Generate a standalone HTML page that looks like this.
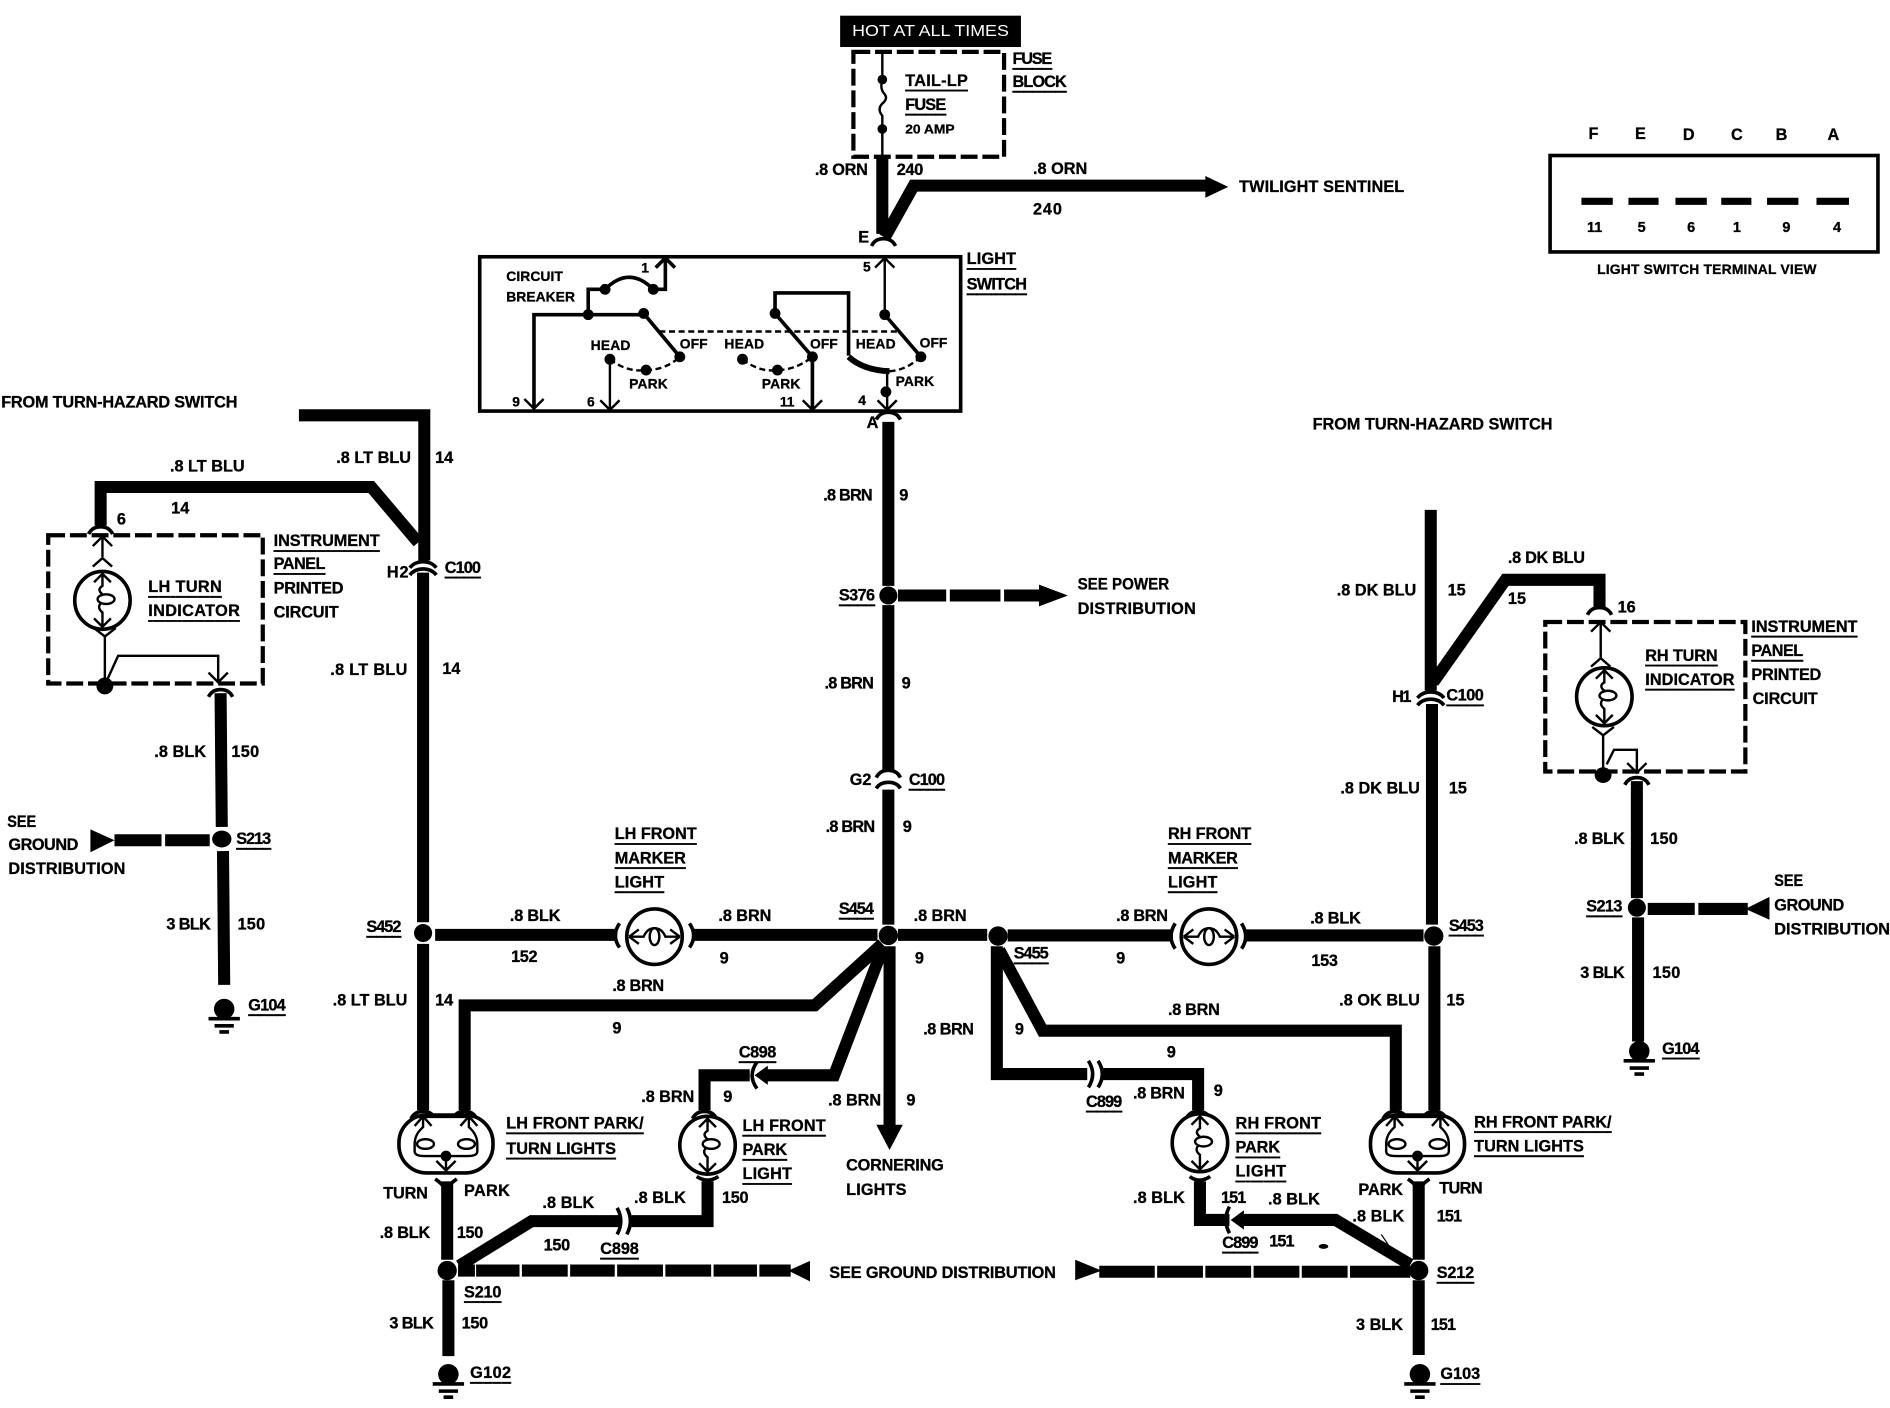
<!DOCTYPE html>
<html><head><meta charset="utf-8"><style>
html,body{margin:0;padding:0;background:#fff}
svg{display:block}
text{font-family:"Liberation Sans",sans-serif;font-weight:700;font-size:13.5px;fill:#000;stroke:#000;stroke-width:.25;dominant-baseline:central}
.u{text-decoration:underline;text-underline-offset:3px}
.w{fill:none;stroke:#000;stroke-width:10;stroke-linejoin:miter}
.t{fill:none;stroke:#000;stroke-width:2}
.m{fill:none;stroke:#000;stroke-width:3}
.d{fill:none;stroke:#000;stroke-width:3.5;stroke-dasharray:14 4}
.n{fill:none;stroke:#000;stroke-width:2;stroke-dasharray:5 3}
</style></head><body>
<svg xmlns="http://www.w3.org/2000/svg" width="1890" height="1408" viewBox="0 0 1568 1168" preserveAspectRatio="none">
<defs>
<path id="ad" class="t" d="M-8 -8L0 0L8 -8"/>
<path id="cu" class="m" d="M-10 4Q-7 -2 0 -2Q7 -2 10 4"/>
<g id="cc"><path class="m" d="M-11 -1Q-7 -6 0 -6Q7 -6 11 -1"/><path class="m" d="M-11 5Q-7 0 0 0Q7 0 11 5"/></g>
<g id="gr"><circle cx="0" cy="0" r="8.500" fill="#000"/><path d="M-13 8H13M-8 14H8M-4 19H4" stroke="#000" stroke-width="3"/></g>
<g id="bulbv"><ellipse rx="23" ry="24" fill="#fff" stroke="#000" stroke-width="3"/>
<path class="t" d="M-7 -15L0 -22L7 -15M0 -22V-12Q-5 -9 0 -5Q3 -2 -1 2Q-5 6 0 10V22M-7 15L0 22L7 15"/><ellipse cx="3" cy="-1" rx="7" ry="4" fill="#fff" stroke="#000" stroke-width="2"/></g>
<g id="bulbh"><ellipse rx="23" ry="23" fill="#fff" stroke="#000" stroke-width="3"/>
<path class="t" d="M-21 0L-13 -6M-21 0L-13 6M21 0L13 -6M21 0L13 6M-21 0H-9Q-6 -7 0 -7Q6 -7 9 0H21"/><ellipse rx="4" ry="7" fill="#fff" stroke="#000" stroke-width="2"/></g>
<g id="dbl"><rect x="-39" y="-24" width="78" height="48" rx="23" fill="#fff" stroke="#000" stroke-width="3"/>
<path d="M-24 -23H24" stroke="#000" stroke-width="3"/>
<path class="t" d="M-26 -15L-19 -23L-12 -15M12 -15L19 -23L26 -15M-19 -23V-14Q-26 -8 -26 0V6Q-26 10 -18 10H18Q26 10 26 6V0Q26 -8 19 -14V-23M-8 14L0 22L8 14M0 22V10"/>
<ellipse cx="-17" cy="0" rx="7" ry="4" fill="#fff" stroke="#000" stroke-width="2"/><ellipse cx="17" cy="0" rx="7" ry="4" fill="#fff" stroke="#000" stroke-width="2"/><circle cx="0" cy="10" r="4.5" fill="#000"/></g>
</defs>

<!-- top -->
<rect x="697" y="13" width="150" height="26" fill="#000"/>
<text x="707" y="26" textLength="130" lengthAdjust="spacingAndGlyphs" style="fill:#fff;stroke:none;font-weight:400;font-size:13px">HOT AT ALL TIMES</text>
<rect x="708" y="43" width="125" height="87" class="d"/>
<path class="t" d="M732 43V66M732 106V130"/>
<circle cx="732" cy="66" r="4"/><circle cx="732" cy="107" r="4"/>
<path class="t" d="M732 66Q730 73 733 77Q737 81 733 85Q727 90 732 96V106"/>
<text class="u" x="751" y="67" textLength="52">TAIL-LP</text>
<text class="u" x="751" y="87" textLength="34">FUSE</text>
<text x="751" y="107" style="font-size:11px" textLength="41" lengthAdjust="spacingAndGlyphs">20 AMP</text>
<text class="u" x="840" y="49" textLength="33">FUSE</text>
<text class="u" x="840" y="68" textLength="45">BLOCK</text>
<path class="w" d="M732 130V194"/>
<path class="w" d="M734 197L758 154H1005"/>
<path d="M1000 146L1019 155L1000 164Z"/>
<text x="1028" y="155" textLength="137">TWILIGHT SENTINEL</text>
<text x="676" y="141" textLength="44">.8 ORN</text>
<text x="744" y="141" textLength="22">240</text>
<text x="857" y="140" textLength="45">.8 ORN</text>
<text x="857" y="174" textLength="24">240</text>
<text x="712" y="197">E</text>
<use href="#cu" x="733" y="200"/>
<text class="u" x="802" y="215" textLength="41">LIGHT</text>
<text class="u" x="802" y="236" textLength="50">SWITCH</text>

<!-- light switch -->
<rect x="398" y="213" width="399" height="128" fill="none" stroke="#000" stroke-width="3"/>
<text x="420" y="229" style="font-size:11.5px" textLength="47">CIRCUIT</text>
<text x="420" y="246" style="font-size:11.5px" textLength="57">BREAKER</text>
<path class="m" d="M443 339V261H534M488 261V240H502Q522 220 542 240H552V214"/>
<path class="m" d="M544 222L552 214L560 222"/>
<circle cx="488" cy="261" r="4.500"/><circle cx="502" cy="240" r="4.500"/><circle cx="542" cy="240" r="4.500"/><circle cx="534" cy="260" r="4.500"/>
<path class="m" d="M534 260L564 296"/>
<circle cx="564" cy="296" r="4.500"/><circle cx="506" cy="298" r="4.500"/><circle cx="536" cy="307" r="4.500"/>
<path class="n" d="M506 298Q520 309 536 307Q552 307 564 296"/>
<path class="t" d="M506 298V339"/>
<path class="m" d="M643 260V243H704V295"/>
<path class="m" d="M643 260L674 296"/>
<circle cx="643" cy="260" r="4.500"/><circle cx="674" cy="296" r="4.500"/><circle cx="616" cy="298" r="4.500"/><circle cx="645" cy="307" r="4.500"/>
<path class="n" d="M616 298Q630 309 645 307Q660 307 674 296"/>
<path class="m" d="M674 296V339"/>
<path d="M704 296Q716 307 738 308" fill="none" stroke="#000" stroke-width="5"/>
<path class="t" d="M734 214V261"/>
<path class="t" d="M726 222L734 214L742 222"/>
<path class="m" d="M734 261L764 296"/>
<circle cx="734" cy="261" r="4.500"/><circle cx="764" cy="296" r="4.500"/><circle cx="735" cy="325" r="4.500"/>
<path class="n" d="M738 308Q752 307 764 296"/>
<path class="t" d="M736 308V339"/>
<path class="n" d="M547 275H747" stroke-dasharray="10 3"/>
<use href="#ad" x="443" y="339"/><use href="#ad" x="506" y="340"/><use href="#ad" x="674" y="340"/><use href="#ad" x="736" y="340"/>
<text x="532" y="222" style="font-size:11.5px">1</text>
<text x="716" y="221" style="font-size:11.5px">5</text>
<text x="425" y="333" style="font-size:11.5px">9</text>
<text x="487" y="333" style="font-size:11.5px">6</text>
<text x="647" y="333" style="font-size:11.5px">11</text>
<text x="712" y="332" style="font-size:11.5px">4</text>
<text x="490" y="286" style="font-size:11.5px" textLength="33">HEAD</text><text x="564" y="285" style="font-size:11.5px" textLength="23">OFF</text><text x="522" y="318" style="font-size:11.5px" textLength="32">PARK</text>
<text x="601" y="285" style="font-size:11.5px" textLength="33">HEAD</text><text x="672" y="285" style="font-size:11.5px" textLength="23">OFF</text><text x="632" y="318" style="font-size:11.5px" textLength="32">PARK</text>
<text x="710" y="285" style="font-size:11.5px" textLength="33">HEAD</text><text x="763" y="284" style="font-size:11.5px" textLength="23">OFF</text><text x="743" y="316" style="font-size:11.5px" textLength="32">PARK</text>
<text x="719" y="351">A</text>
<use href="#cu" x="737" y="344"/>

<!-- terminal view -->
<rect x="1286" y="129" width="272" height="80" fill="none" stroke="#000" stroke-width="3"/>
<text x="1322" y="111" text-anchor="middle">F</text><text x="1361" y="111" text-anchor="middle">E</text><text x="1401" y="112" text-anchor="middle">D</text><text x="1441" y="112" text-anchor="middle">C</text><text x="1478" y="112" text-anchor="middle">B</text><text x="1521" y="112" text-anchor="middle">A</text>
<text x="1323" y="189" text-anchor="middle" style="font-size:12px">11</text><text x="1362" y="189" text-anchor="middle" style="font-size:12px">5</text><text x="1403" y="189" text-anchor="middle" style="font-size:12px">6</text><text x="1441" y="189" text-anchor="middle" style="font-size:12px">1</text><text x="1482" y="189" text-anchor="middle" style="font-size:12px">9</text><text x="1524" y="189" text-anchor="middle" style="font-size:12px">4</text>
<path d="M1312 167H1338M1351 167H1376M1390 167H1416M1428 167H1453M1466 167H1492M1507 167H1534" stroke="#000" stroke-width="6"/>
<text x="1325" y="223" style="font-size:11.5px" textLength="182">LIGHT SWITCH TERMINAL VIEW</text>

<!-- left -->
<text x="1" y="334" textLength="196">FROM TURN-HAZARD SWITCH</text>
<path class="w" d="M248 344.500H352V465"/>
<path class="w" d="M83.500 436V404H308L347 450"/>
<use href="#cu" x="83.500" y="439"/>
<text x="97" y="431">6</text>
<text x="141" y="387" textLength="62">.8 LT BLU</text><text x="142" y="422">14</text>
<text x="279" y="380" textLength="62">.8 LT BLU</text><text x="361" y="380">14</text>
<rect x="40" y="444" width="178" height="123" class="d"/>
<use href="#ad" x="85" y="445" transform="rotate(180 85 445)"/>
<path class="t" d="M85 445V462M77 470L85 463L93 470"/>
<use href="#bulbv" x="85" y="498"/>
<path class="t" d="M87 528V568M78 521L87 528L96 521M88 566L98 544H181V565"/>
<use href="#ad" x="181" y="566"/>
<ellipse cx="87" cy="569" rx="7" ry="7"/>
<text class="u" x="123" y="487" textLength="61">LH TURN</text>
<text class="u" x="123" y="507" textLength="76">INDICATOR</text>
<text class="u" x="227" y="449" textLength="88">INSTRUMENT</text>
<text class="u" x="227" y="468" textLength="43">PANEL</text>
<text x="227" y="488" textLength="58">PRINTED</text>
<text x="227" y="508" textLength="54">CIRCUIT</text>
<use href="#cc" x="351" y="472"/>
<text x="321" y="475" textLength="18">H2</text>
<text class="u" x="369" y="471" textLength="30">C100</text>
<path class="w" d="M351 475V765M351 783V921"/>
<circle cx="351" cy="774" r="7.500"/>
<text x="274" y="556" textLength="64">.8 LT BLU</text><text x="367" y="555">14</text>
<text class="u" x="304" y="769" textLength="29">S452</text>
<text x="276" y="830" textLength="62">.8 LT BLU</text><text x="361" y="830">14</text>
<use href="#cu" x="183" y="574"/>
<path class="w" d="M183 575L184 686M185 706L186 817"/>
<ellipse cx="184" cy="696" rx="8" ry="7"/>
<text x="128" y="624" textLength="43">.8 BLK</text><text x="192" y="624" textLength="23">150</text>
<text class="u" x="196" y="696" textLength="29">S213</text>
<text x="138" y="767" textLength="37">3 BLK</text><text x="197" y="767" textLength="23">150</text>
<use href="#gr" x="186" y="837"/>
<text class="u" x="206" y="834" textLength="31">G104</text>
<text x="6" y="682" textLength="24" lengthAdjust="spacingAndGlyphs">SEE</text><text x="7" y="701" textLength="58">GROUND</text><text x="7" y="721" textLength="97">DISTRIBUTION</text>
<path d="M75 688L95 697L75 707Z"/>
<path class="w" d="M95 697H134M137 697H174"/>

<!-- center -->
<path class="w" d="M737 350V486M737 502V640M737 655V767"/>
<use href="#cu" x="737" y="641"/><path class="m" d="M727 654Q730 649 737 649Q744 649 747 654"/>
<circle cx="737" cy="494" r="7.500"/>
<path class="w" d="M745 494H785M788 494H830M833 494H866"/>
<path d="M862 485L886 494L862 503Z"/>
<text x="683" y="411" textLength="41">.8 BRN</text><text x="746" y="411">9</text>
<text class="u" x="696" y="494" textLength="30">S376</text>
<text x="894" y="485" textLength="76" lengthAdjust="spacingAndGlyphs">SEE POWER</text><text x="894" y="505" textLength="98">DISTRIBUTION</text>
<text x="684" y="567" textLength="41">.8 BRN</text><text x="748" y="567">9</text>
<text x="705" y="647" textLength="18">G2</text><text class="u" x="754" y="647" textLength="30">C100</text>
<text x="685" y="686" textLength="41">.8 BRN</text><text x="749" y="686">9</text>

<!-- horizontal -->
<path class="w" d="M361 775.500H512M574 775.500H728M745 775.500H819M836 776H973M1032 776H1181"/>
<path class="m" d="M514 766Q507 776 514 786M572 766Q579 776 572 786M975 766Q968 777 975 787M1030 766Q1037 777 1030 787"/>
<use href="#bulbh" x="543" y="777"/><use href="#bulbh" x="1003" y="777"/>
<circle cx="737" cy="776" r="8"/><circle cx="828" cy="776.500" r="8"/><circle cx="1189.500" cy="776.500" r="8"/>
<text x="423" y="760" textLength="42">.8 BLK</text><text x="424" y="794" textLength="22">152</text>
<text x="596" y="760" textLength="44">.8 BRN</text><text x="597" y="795">9</text>
<text class="u" x="696" y="754" textLength="29">S454</text>
<text x="758" y="760" textLength="44">.8 BRN</text><text x="759" y="795">9</text>
<text class="u" x="841" y="791" textLength="29">S455</text>
<text x="926" y="760" textLength="43">.8 BRN</text><text x="926" y="795">9</text>
<text x="1087" y="762" textLength="42">.8 BLK</text><text x="1088" y="797" textLength="22">153</text>
<text class="u" x="1202" y="768" textLength="29">S453</text>
<text x="510" y="692" class="u" textLength="68">LH FRONT</text><text x="510" y="712" class="u" textLength="59">MARKER</text><text x="510" y="732" class="u" textLength="41">LIGHT</text>
<text x="969" y="692" class="u" textLength="69">RH FRONT</text><text x="969" y="712" class="u" textLength="58">MARKER</text><text x="969" y="732" class="u" textLength="41">LIGHT</text>

<!-- S454 branches -->
<path class="w" d="M732 783L676 834H385.500V921"/>
<path class="w" d="M733 785L692 892H634M622 892H584.500V921"/>
<path class="m" d="M628 881Q620 892 628 903"/><path d="M637 884L626 892L637 900Z"/>
<path class="w" d="M738 785V936"/>
<path d="M727 933H749L738 954Z"/>
<text x="508" y="818" textLength="43">.8 BRN</text><text x="508" y="853">9</text>
<text class="u" x="613" y="873" textLength="31">C898</text>
<text x="532" y="910" textLength="44">.8 BRN</text><text x="600" y="910">9</text>
<text x="687" y="913" textLength="44">.8 BRN</text><text x="752" y="913">9</text>
<text x="766" y="854" textLength="42">.8 BRN</text>
<text x="702" y="967" textLength="81">CORNERING</text><text x="702" y="987" textLength="50">LIGHTS</text>

<!-- LH lamps -->
<use href="#cu" x="351" y="924"/><use href="#cu" x="385.500" y="924"/>
<use href="#dbl" x="370" y="949"/>
<use href="#cu" x="584.500" y="924"/>
<use href="#bulbv" x="587" y="950"/>
<text class="u" x="420" y="932" textLength="114">LH FRONT PARK/</text>
<text class="u" x="420" y="953" textLength="91">TURN LIGHTS</text>
<text class="u" x="616" y="934" textLength="69">LH FRONT</text><text class="u" x="616" y="954" textLength="37">PARK</text><text class="u" x="616" y="974" textLength="41">LIGHT</text>
<text x="318" y="990" textLength="37">TURN</text><text x="385" y="988" textLength="38">PARK</text>
<path class="m" d="M361 978Q370 984 370 990Q370 984 379 978"/>
<path class="w" d="M371 980V1045M372 1062V1125"/>
<circle cx="371" cy="1054" r="8"/>
<path class="w" d="M381 1050L441 1013H514M524 1013H587V980"/>
<path class="m" d="M512 1002Q518 1013 512 1024M520 1002Q526 1013 520 1024"/>
<path class="m" d="M578 976Q587 982 596 976"/>
<text x="315" y="1023" textLength="42">.8 BLK</text><text x="379" y="1023" textLength="22">150</text>
<text x="450" y="998" textLength="43">.8 BLK</text><text x="526" y="994" textLength="43">.8 BLK</text><text x="599" y="994" textLength="22">150</text>
<text x="451" y="1033" textLength="22">150</text><text class="u" x="498" y="1036" textLength="32">C898</text>
<text class="u" x="385" y="1072" textLength="31">S210</text>
<text x="323" y="1098" textLength="37">3 BLK</text><text x="383" y="1098" textLength="22">150</text>
<use href="#gr" x="372" y="1140"/>
<text class="u" x="390" y="1139" textLength="34">G102</text>
<path class="w" d="M380 1054H394M395 1054H431M433 1054H471M473 1054H510M512 1054H550M552 1054H590M592 1054H628M630 1054H656"/>
<path d="M654 1054L672 1046V1063Z"/>
<text x="688" y="1056" textLength="188">SEE GROUND DISTRIBUTION</text>
<path d="M892 1045V1062L914 1054Z"/>
<path class="w" d="M912 1055H958M960 1055H998M1000 1055H1038M1040 1055H1078M1080 1055H1118M1120 1055H1170"/>
<ellipse cx="1098" cy="1034" rx="4" ry="2"/>
<path d="M1146 1024L1154 1036" stroke="#000" stroke-width="1" fill="none"/>

<!-- S455 branches -->
<path class="w" d="M827 785V891H902M913 891H994V921"/>
<path class="m" d="M903 880Q910 891 903 902M911 880Q918 891 911 902"/>
<path class="w" d="M829 788L865 855H1158V921"/>
<text x="842" y="854">9</text>
<text x="969" y="838" textLength="43">.8 BRN</text><text x="968" y="873">9</text>
<text class="u" x="901" y="914" textLength="30">C899</text>
<text x="940" y="907" textLength="43">.8 BRN</text><text x="1007" y="905">9</text>

<!-- right vertical -->
<path class="w" d="M1187 423V573M1188 584V767M1190 785V921"/>
<path class="w" d="M1189 566L1249 481H1327V504"/>
<use href="#cc" x="1187" y="580"/>
<use href="#cu" x="1327" y="506"/>
<text x="1109" y="490" textLength="66">.8 DK BLU</text><text x="1201" y="490">15</text>
<text x="1251" y="463" textLength="64">.8 DK BLU</text><text x="1251" y="497">15</text><text x="1342" y="504">16</text>
<text x="1155" y="578" textLength="16">H1</text><text class="u" x="1200" y="577" textLength="31">C100</text>
<text x="1112" y="654" textLength="66">.8 DK BLU</text><text x="1202" y="654">15</text>
<text x="1111" y="830" textLength="67">.8 OK BLU</text><text x="1200" y="830">15</text>
<rect x="1282" y="516" width="166" height="124" class="d"/>
<path class="t" d="M1328 516V546M1320 524L1328 516L1336 524M1320 553L1328 546L1336 553"/>
<use href="#bulbv" x="1331" y="578"/>
<path class="t" d="M1321 603L1330 610L1339 603M1330 609V640M1333 634L1339 622H1358V640"/>
<use href="#ad" x="1358" y="641"/>
<ellipse cx="1330" cy="643" rx="7" ry="6.500"/>
<text class="u" x="1365" y="544" textLength="60">RH TURN</text>
<text class="u" x="1365" y="564" textLength="74">INDICATOR</text>
<text class="u" x="1453" y="520" textLength="88">INSTRUMENT</text>
<text class="u" x="1453" y="540" textLength="43">PANEL</text>
<text x="1453" y="560" textLength="58">PRINTED</text>
<text x="1454" y="580" textLength="54">CIRCUIT</text>
<use href="#cu" x="1358" y="647"/>
<path class="w" d="M1358 648V745M1359 761V864"/>
<circle cx="1358" cy="753" r="7.500"/>
<path class="w" d="M1367 754H1406M1409 754H1450"/>
<path d="M1448 754L1468 744V763Z"/>
<text x="1306" y="696" textLength="42">.8 BLK</text><text x="1369" y="696" textLength="23">150</text>
<text class="u" x="1316" y="752" textLength="30">S213</text>
<text x="1311" y="807" textLength="37">3 BLK</text><text x="1371" y="807" textLength="23">150</text>
<use href="#gr" x="1360" y="872"/>
<text class="u" x="1379" y="870" textLength="31">G104</text>
<text x="1472" y="731" textLength="24" lengthAdjust="spacingAndGlyphs">SEE</text><text x="1472" y="751" textLength="58">GROUND</text><text x="1472" y="771" textLength="96">DISTRIBUTION</text>
<text x="1089" y="352" textLength="199">FROM TURN-HAZARD SWITCH</text>

<!-- RH lamps -->
<use href="#cu" x="1157.500" y="924"/><use href="#cu" x="1190" y="924"/>
<use href="#dbl" x="1176" y="949"/>
<use href="#cu" x="994" y="924"/>
<use href="#bulbv" x="995.500" y="948"/>
<text class="u" x="1223" y="931" textLength="114">RH FRONT PARK/</text>
<text class="u" x="1223" y="951" textLength="91">TURN LIGHTS</text>
<text class="u" x="1025" y="932" textLength="71">RH FRONT</text><text class="u" x="1025" y="952" textLength="37">PARK</text><text class="u" x="1025" y="972" textLength="42">LIGHT</text>
<text x="1127" y="987" textLength="37">PARK</text><text x="1194" y="986" textLength="36">TURN</text>
<path class="m" d="M1168 978Q1177 984 1177 990Q1177 984 1186 978"/>
<path class="w" d="M1177 980V1045M1177 1062V1124"/>
<circle cx="1177" cy="1054" r="8"/>
<path class="w" d="M995.500 980V1012H1020M1030 1012H1108L1170 1049"/>
<path class="m" d="M987 976Q995 982 1004 976"/>
<path class="m" d="M1020 1001Q1014 1012 1020 1023"/><path d="M1032 1004L1021 1012L1032 1020Z"/>
<text x="940" y="994" textLength="43">.8 BLK</text><text x="1013" y="994" textLength="21">151</text>
<text x="1052" y="995" textLength="43">.8 BLK</text>
<text class="u" x="1014" y="1031" textLength="30">C899</text><text x="1053" y="1030" textLength="21">151</text>
<text x="1122" y="1009" textLength="43">.8 BLK</text><text x="1192" y="1009" textLength="21">151</text>
<text class="u" x="1192" y="1056" textLength="31">S212</text>
<text x="1125" y="1099" textLength="39">3 BLK</text><text x="1187" y="1099" textLength="21">151</text>
<use href="#gr" x="1178" y="1140"/>
<text class="u" x="1195" y="1140" textLength="33">G103</text>
</svg>
</body></html>
